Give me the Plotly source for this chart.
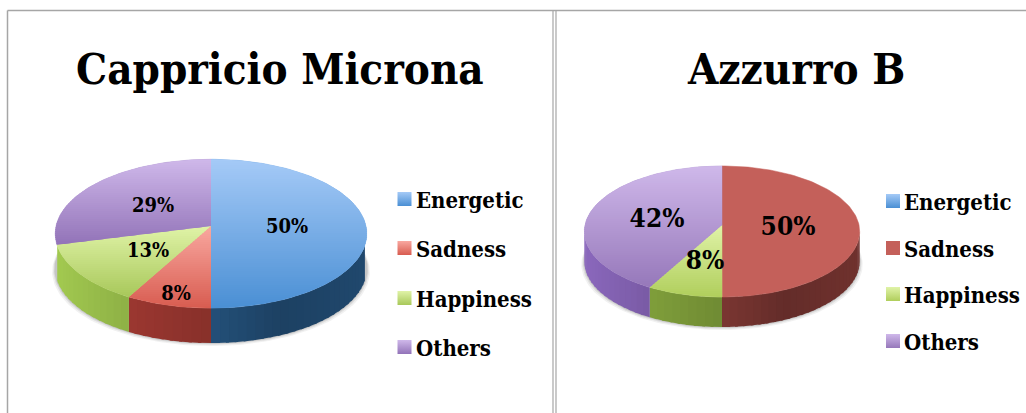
import math
import plotly.graph_objects as go

categories = ["Energetic", "Sadness", "Happiness", "Others"]
titles = ["Cappricio Microna", "Azzurro B"]
values_a = [50, 8, 13, 29]
values_b = [0, 50, 8, 42]

W, H = 1026, 413
SERIF = "DejaVu Serif Condensed"

# per-slice top-face gradient (top, bottom) and wall colour at the front of the disc
face_a = [("#a5caf7", "#4a8fd4"), ("#f9a8a0", "#d85c50"), ("#e0f3a8", "#a8c85a"), ("#cfb8ea", "#9273b8")]
face_b = [("#a5caf7", "#4a8fd4"), ("#c4605a", "#c4605a"), ("#e0f3a8", "#b0ce5c"), ("#cfb8ea", "#9678ba")]
wall_a = ["#234f78", "#87302a", "#7c9a3d", "#6a4f90"]
wall_b = ["#234f78", "#7a3632", "#6f8a33", "#6a4f90"]

charts = [
    dict(values=values_a, face=face_a, wall=wall_a, cx=211, ay=226, Rx=155, Ry=73.6, k=0.103, depth=35,
         vis=-0.249, title=titles[0], title_x=280, swatch_x=404.5, text_x=416, leg_y=[202, 251, 301, 350],
         lab_xy=[(287, 228), (176, 295), (148, 252), (153, 207)], lab_size=20),
    dict(values=values_b, face=face_b, wall=wall_b, cx=722, ay=225, Rx=137, Ry=64.9, k=0.099, depth=30,
         vis=-0.099, title=titles[1], title_x=796, swatch_x=893, text_x=904, leg_y=[204, 251, 297, 344],
         lab_xy=[None, (788, 228), (705, 262), (657, 220)], lab_size=26),
]


def hex2rgb(c):
    return tuple(int(c[i:i + 2], 16) for i in (1, 3, 5))


def mix(c1, c2, t):
    a, b = hex2rgb(c1), hex2rgb(c2)
    return "rgb(%d,%d,%d)" % tuple(round(a[i] + (b[i] - a[i]) * t) for i in range(3))


def shade(c, f):
    a = hex2rgb(c)
    return "rgb(%d,%d,%d)" % tuple(min(255, round(v * f)) for v in a)


def project(ch, frac):
    """Slice fraction (clockwise from 12 o'clock) -> perspective disc rim point."""
    th = 2 * math.pi * frac
    u, v = math.sin(th), math.cos(th)
    d = 1 + ch["k"] * v
    return ch["cx"] + ch["Rx"] * u / d, ch["ay"] - ch["Ry"] * v / d


def clip(poly, lim, keep_above):
    out = []
    for i, p in enumerate(poly):
        q = poly[(i + 1) % len(poly)]
        pin = p[1] <= lim if keep_above else p[1] >= lim
        qin = q[1] <= lim if keep_above else q[1] >= lim
        if pin:
            out.append(p)
        if pin != qin:
            t = (lim - p[1]) / (q[1] - p[1])
            out.append((p[0] + (q[0] - p[0]) * t, lim))
    return out


def poly_trace(poly, color, lw=0.0):
    xs = [p[0] for p in poly] + [poly[0][0]]
    ys = [p[1] for p in poly] + [poly[0][1]]
    return go.Scatter(x=xs, y=ys, mode="lines", fill="toself", fillcolor=color,
                      line=dict(color=color, width=lw), hoverinfo="skip", showlegend=False)


def brightness(u):
    pts = [(-1, 1.32), (-0.5, 1.15), (0, 1.0), (0.4, 0.82), (1, 0.92)]
    for (a, fa), (b, fb) in zip(pts, pts[1:]):
        if u <= b:
            return fa + (fb - fa) * (u - a) / (b - a)
    return pts[-1][1]


fig = go.Figure()

for ch in charts:
    total = sum(ch["values"])
    # soft shadow under the disc
    ring = [project(ch, i / 240) for i in range(240)]
    for grow, alpha in ((3.0, 0.07), (1.8, 0.10), (0.8, 0.14)):
        low = [(ch["cx"] + (x - ch["cx"]) * (1 + grow / ch["Rx"]), y + ch["depth"] + grow) for x, y in ring]
        fig.add_trace(poly_trace(low, "rgba(60,60,60,%.2f)" % alpha))

    # side wall and top face of each slice
    start = 0.0
    walls, bases, faces = [], [], []
    for i, val in enumerate(ch["values"]):
        if val == 0:
            continue
        end = start + val / total
        n = max(2, int((end - start) * 120))
        for j in range(n):
            f0 = start + (end - start) * j / n
            f1 = min(end, start + (end - start) * (j + 1) / n + 0.003)
            sub = [f0 + (f1 - f0) * s / 4 for s in range(5)]
            sub = [f for f in sub if math.cos(2 * math.pi * f) <= ch["vis"]]
            if len(sub) < 2:
                continue
            rim = [project(ch, f) for f in sub]
            u = math.sin(2 * math.pi * (f0 + f1) / 2)
            quad = rim + [(x, y + ch["depth"]) for x, y in reversed(rim)]
            walls.append((quad, shade(ch["wall"][i], brightness(u))))

        wedge = [(ch["cx"], ch["ay"])]
        m = max(8, int((end - start) * 240))
        wedge += [project(ch, start + (end - start) * s / m) for s in range(m + 1)]
        y0, y1 = min(p[1] for p in wedge), max(p[1] for p in wedge)
        top, bot = ch["face"][i]
        bases.append((wedge, mix(top, bot, 0.5)))
        if top != bot:
            step = 2
            y = math.floor(y0)
            while y < y1:
                band = clip(clip(wedge, y, False), y + step + 1, True)
                if len(band) >= 3:
                    faces.append((band, mix(top, bot, min(1, max(0, (y + step / 2 - y0) / (y1 - y0))))))
                y += step
        start = end
    for poly, col in walls:
        fig.add_trace(poly_trace(poly, col))
    for poly, col in bases:
        fig.add_trace(poly_trace(poly, col, lw=0.5))
    for poly, col in faces:
        fig.add_trace(poly_trace(poly, col))

    # percentage labels
    lab = [(xy, "%d%%" % v) for xy, v in zip(ch["lab_xy"], ch["values"]) if v]
    fig.add_trace(go.Scatter(x=[a[0][0] for a in lab], y=[a[0][1] for a in lab], text=[a[1] for a in lab],
                             mode="text", textposition="middle center", hoverinfo="skip", showlegend=False,
                             textfont=dict(family=SERIF, size=ch["lab_size"], color="#000000", weight="bold")))

    # legend swatches and names
    for i, name in enumerate(categories):
        top, bot = ch["face"][i]
        fig.add_trace(go.Scatter(x=[ch["swatch_x"]], y=[ch["leg_y"][i] - 3], mode="markers", hoverinfo="skip",
                                 showlegend=False,
                                 marker=dict(symbol="square", size=14, color=top, line=dict(width=0),
                                             gradient=dict(type="vertical", color=bot))))
    fig.add_trace(go.Scatter(x=[ch["text_x"]] * 4, y=ch["leg_y"], text=categories, mode="text",
                             textposition="middle right", hoverinfo="skip", showlegend=False,
                             textfont=dict(family=SERIF, size=22, color="#000000", weight="bold")))

    fig.add_annotation(x=ch["title_x"], y=68, text="<b>%s</b>" % ch["title"], showarrow=False,
                       xanchor="center", yanchor="middle",
                       font=dict(family=SERIF, size=43.5, color="#000000"))

# table frame
frame = "#a6a6a6"
for x0, y0, x1, y1, lw in [(7.5, 10.5, 1026, 10.5, 1.5), (7.5, 10.5, 7.5, 413, 1.5),
                           (553, 10.5, 553, 413, 1.2), (556, 10.5, 556, 413, 1.2)]:
    fig.add_shape(type="line", x0=x0, y0=y0, x1=x1, y1=y1, line=dict(color=frame, width=lw), layer="below")

fig.update_layout(width=W, height=H, margin=dict(l=0, r=0, t=0, b=0), paper_bgcolor="white",
                  plot_bgcolor="white", showlegend=False,
                  xaxis=dict(range=[0, W], visible=False, fixedrange=True),
                  yaxis=dict(range=[H, 0], visible=False, fixedrange=True))
fig.write_html("out.html", config={"displayModeBar": False},
               post_script="document.body.style.margin='0';document.body.style.overflow='hidden';")
